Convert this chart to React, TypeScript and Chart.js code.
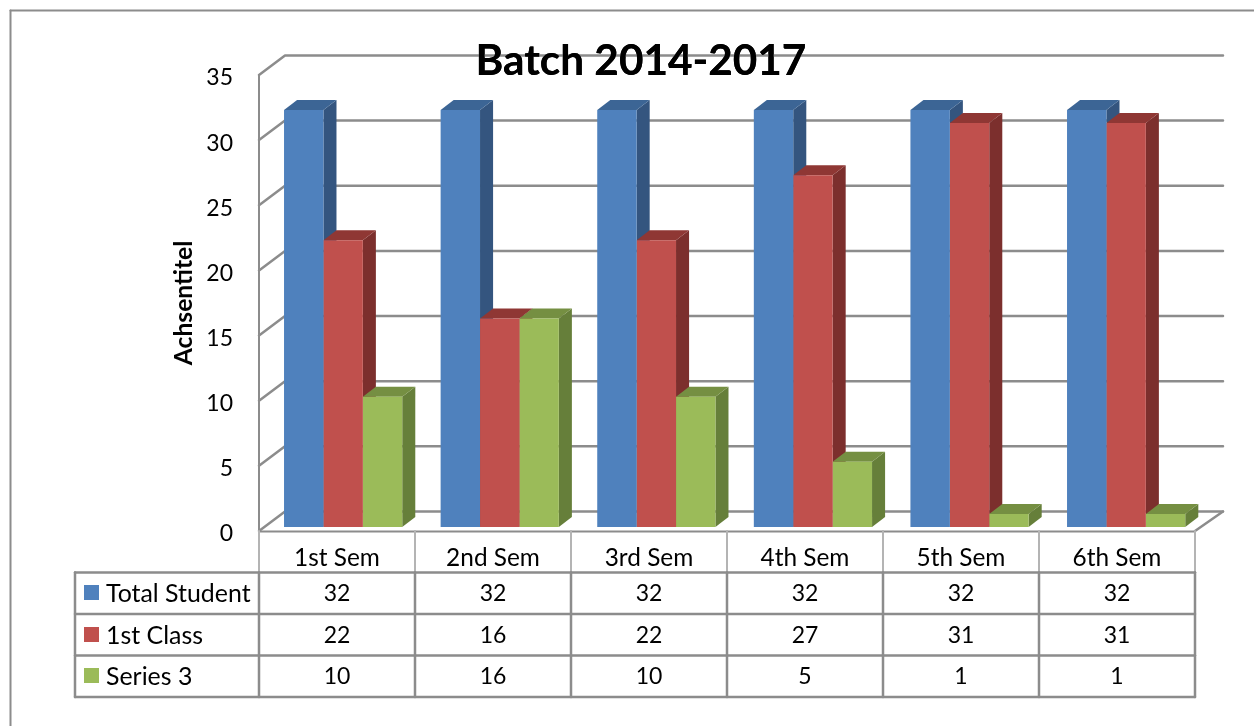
import React, { useEffect, useRef } from "react";
import { Chart, registerables } from "chart.js";

Chart.register(...registerables);

const categories = ["1st Sem", "2nd Sem", "3rd Sem", "4th Sem", "5th Sem", "6th Sem"];
const totalStudent = [32, 32, 32, 32, 32, 32];
const firstClass = [22, 16, 22, 27, 31, 31];
const series3 = [10, 16, 10, 5, 1, 1];
const seriesNames = ["Total Student", "1st Class", "Series 3"];
const yTicks = [0, 5, 10, 15, 20, 25, 30, 35];

const frontColors = ["#4F81BD", "#C0504D", "#9BBB59"];
const sideColors = ["#34557F", "#7C2F2D", "#667F3A"];
const topColors = ["#3C6595", "#8F3734", "#758F42"];
const LINE = "#8C8C8C";
const LIGHT = "#B4B4B4";
const FONT = "Lato, Carlito, sans-serif";

const WALL_DX = 26;
const WALL_DY = -19.5;
const BAR_DX = 5.83;
const BAR_DY = -4;
const BAR_STRETCH = 1.00385;
const DEPTH_X = 13;
const DEPTH_Y = -10;
const ROW_LINES = [572.5, 614, 655.5, 697];
const ROW_TEXT = [594, 635.5, 677];
const KEY_TOP = [585, 627, 668];
const TABLE_LEFT = 75;

function poly(ctx: any, pts: number[][], fill: string) {
  ctx.beginPath();
  pts.forEach((p, i) => (i ? ctx.lineTo(p[0], p[1]) : ctx.moveTo(p[0], p[1])));
  ctx.closePath();
  ctx.fillStyle = fill;
  ctx.fill();
}

function seg(ctx: any, x1: number, y1: number, x2: number, y2: number, color: string, w: number) {
  ctx.beginPath();
  ctx.moveTo(x1, y1);
  ctx.lineTo(x2, y2);
  ctx.strokeStyle = color;
  ctx.lineWidth = w;
  ctx.stroke();
}

function barSpace(ctx: any, left: number) {
  ctx.translate(left + BAR_DX, BAR_DY);
  ctx.scale(BAR_STRETCH, 1);
  ctx.translate(-left, 0);
}

const decor = {
  id: "decor",
  beforeDatasetsDraw(chart: any) {
    const { ctx, chartArea: a, scales } = chart;
    const y = scales.y;
    const x = scales.x;
    ctx.save();
    ctx.lineJoin = "round";
    ctx.lineCap = "round";

    // page frame
    seg(ctx, 10.5, 726, 10.5, 10.5, LINE, 2);
    seg(ctx, 10.5, 10.5, 1254, 10.5, LINE, 2);

    // walls and floor
    yTicks.forEach((v) => {
      const py = y.getPixelForValue(v);
      ctx.beginPath();
      ctx.moveTo(a.left, py);
      ctx.lineTo(a.left + WALL_DX, py + WALL_DY);
      ctx.lineTo(a.right + WALL_DX + 2, py + WALL_DY);
      ctx.strokeStyle = LINE;
      ctx.lineWidth = 2.5;
      ctx.stroke();
    });
    seg(ctx, a.right, a.bottom, a.right + WALL_DX + 2, a.bottom + WALL_DY, LINE, 2.5);
    seg(ctx, a.left, a.top, a.left, a.bottom, LINE, 2);

    // table
    const step = (a.right - a.left) / categories.length;
    seg(ctx, a.left, a.bottom + 0.5, a.right, a.bottom + 0.5, LINE, 2);
    for (let i = 0; i <= categories.length; i++) {
      const vx = a.left + i * step;
      seg(ctx, vx, a.bottom, vx, ROW_LINES[0], LIGHT, 2);
      seg(ctx, vx, ROW_LINES[0], vx, ROW_LINES[3], LINE, 2.5);
    }
    ROW_LINES.forEach((ly) => seg(ctx, TABLE_LEFT, ly, a.right, ly, LINE, 2.5));
    seg(ctx, TABLE_LEFT, ROW_LINES[0], TABLE_LEFT, ROW_LINES[3], LINE, 2.5);

    ctx.textBaseline = "middle";
    chart.data.datasets.forEach((ds: any, r: number) => {
      ctx.fillStyle = frontColors[r];
      ctx.fillRect(84, KEY_TOP[r], 15, 15);
      ctx.fillStyle = "#000";
      ctx.textAlign = "left";
      ctx.font = `24.9px ${FONT}`;
      ctx.fillText(ds.label, 106, ROW_TEXT[r]);
      ctx.textAlign = "center";
      ctx.font = `23px ${FONT}`;
      ds.data.forEach((v: number, c: number) => {
        ctx.fillText(String(v), x.getPixelForValue(c), ROW_TEXT[r]);
      });
    });

    // 3-D side and top faces of every bar, taken from the bar elements
    barSpace(ctx, a.left);
    categories.forEach((_, c) => {
      chart.data.datasets.forEach((_ds: any, d: number) => {
        const bar = chart.getDatasetMeta(d).data[c];
        const l = bar.x - bar.width / 2;
        const r = bar.x + bar.width / 2;
        const t = bar.y;
        const b = bar.base;
        poly(ctx, [[r, t], [r + DEPTH_X, t + DEPTH_Y], [r + DEPTH_X, b + DEPTH_Y], [r, b]], sideColors[d]);
        poly(ctx, [[l, t], [l + DEPTH_X, t + DEPTH_Y], [r + DEPTH_X, t + DEPTH_Y], [r, t]], topColors[d]);
      });
    });
    ctx.restore();

    ctx.save();
    barSpace(ctx, a.left);
  },
  afterDatasetsDraw(chart: any) {
    chart.ctx.restore();
    // the title sits in front of the top grid line
    chart.titleBlock.draw(chart.chartArea);
  },
};

export default function App() {
  const ref = useRef<HTMLCanvasElement | null>(null);
  useEffect(() => {
    const common = { categoryPercentage: 0.7548, barPercentage: 1, borderWidth: 0, clip: false as any };
    const chart = new Chart(ref.current as HTMLCanvasElement, {
      type: "bar",
      data: {
        labels: categories,
        datasets: [
          { label: seriesNames[0], data: totalStudent, backgroundColor: frontColors[0], ...common },
          { label: seriesNames[1], data: firstClass, backgroundColor: frontColors[1], ...common },
          { label: seriesNames[2], data: series3, backgroundColor: frontColors[2], ...common },
        ],
      },
      plugins: [decor],
      options: {
        responsive: false,
        animation: false,
        layout: { padding: { left: 87, right: 59, top: 0, bottom: 0 } },
        plugins: {
          legend: { display: false },
          tooltip: { enabled: false },
          title: {
            display: true,
            text: "Batch 2014-2017",
            color: "#000",
            font: { family: FONT, size: 42.3, weight: "bold", lineHeight: 1.2 },
            padding: { top: 36, bottom: -11.8 },
          },
        },
        scales: {
          x: {
            grid: { display: false, drawTicks: false },
            border: { display: false },
            ticks: { color: "#000", font: { family: FONT, size: 24.4 }, padding: 13, maxRotation: 0 },
            afterFit: (s: any) => {
              s.height = 195;
            },
          },
          y: {
            min: 0,
            max: 35,
            grid: { display: false, drawTicks: false },
            border: { display: false },
            afterFit: (s: any) => {
              s.width = 172;
            },
            ticks: {
              color: "#000",
              stepSize: 5,
              padding: 26,
              font: { family: FONT, size: 23, lineHeight: "6px" },
              callback: (v: any) => ["", String(v)],
            },
            title: {
              display: true,
              text: "Achsentitel",
              color: "#000",
              font: { family: FONT, size: 24.7, weight: "bold" },
              padding: { top: 82, bottom: 0 },
            },
          },
        },
      },
    });
    return () => chart.destroy();
  }, []);
  return (
    <div style={{ position: "absolute", left: 0, top: 0, width: 1254, height: 726, background: "#fff" }}>
      <canvas ref={ref} width={1254} height={726} style={{ display: "block" }} />
    </div>
  );
}
